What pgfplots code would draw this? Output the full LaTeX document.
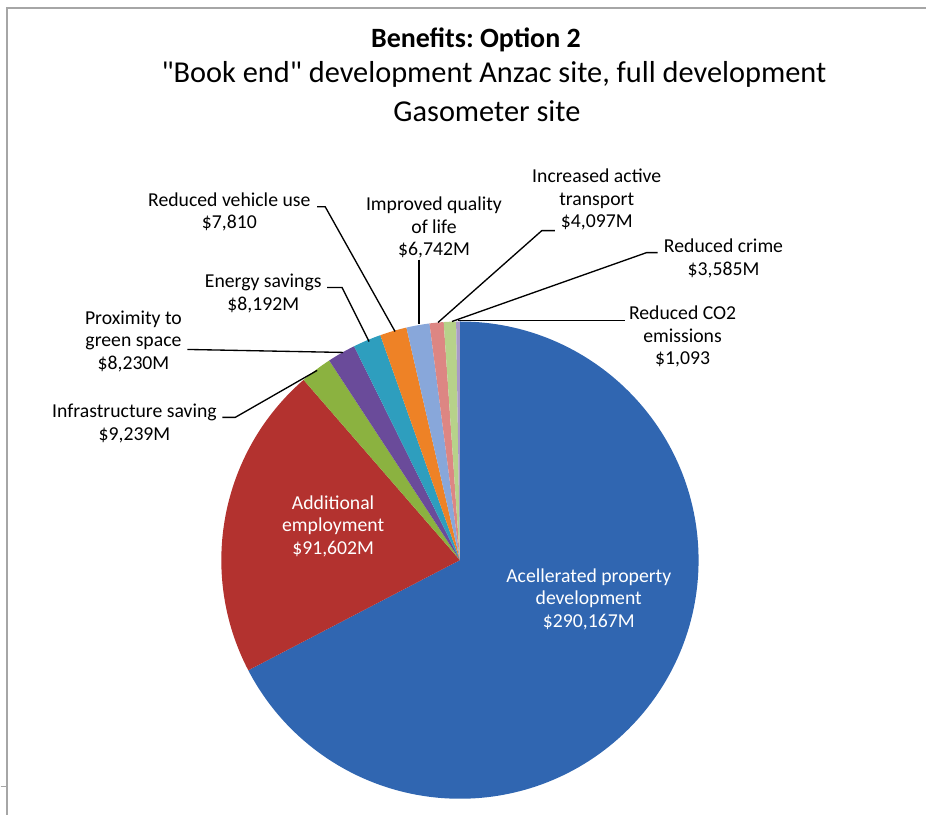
\documentclass[border=0pt]{standalone}
\usepackage{pgfplots}
\pgfplotsset{compat=1.18}
\usepackage{pgfplotstable}
\usepackage{fontspec}
\setmainfont{Carlito}[Ligatures=TeXOff]
\frenchspacing

\definecolor{cBlue}{HTML}{3066B1}
\definecolor{cRed}{HTML}{B3322F}
\definecolor{cGreen}{HTML}{8BB240}
\definecolor{cPurple}{HTML}{6A4B9A}
\definecolor{cTeal}{HTML}{2E9EBE}
\definecolor{cOrange}{HTML}{EE8226}
\definecolor{cLBlue}{HTML}{88A7DA}
\definecolor{cPink}{HTML}{DD8683}
\definecolor{cLGreen}{HTML}{B7D28A}
\definecolor{cLPurple}{HTML}{A89BC8}
\definecolor{frame}{HTML}{A6A6A6}

\pgfplotstableread{
value color
290167 cBlue
91602 cRed
9239 cGreen
8230 cPurple
8192 cTeal
7810 cOrange
6742 cLBlue
4097 cPink
3585 cLGreen
1093 cLPurple
}\pietable

\begin{document}
\begin{tikzpicture}
\begin{axis}[
  x=0.75pt, y=0.75pt,
  xmin=0, xmax=927, ymin=0, ymax=816,
  y dir=reverse,
  hide axis, clip=false,
]
\pgfplotsextra{
  \path (axis cs:0,0) rectangle (axis cs:927,816);
  \pgfplotstablegetrowsof{\pietable}
  \pgfmathtruncatemacro\lastrow{\pgfplotsretval-1}
  \gdef\pietotal{0}
  \foreach \i in {0,...,\lastrow}{
    \pgfplotstablegetelem{\i}{value}\of\pietable
    \xdef\pietotal{\fpeval{\pietotal+\pgfplotsretval}}
  }
  \gdef\pieangle{90}
  \foreach \i in {0,...,\lastrow}{
    \pgfplotstablegetelem{\i}{value}\of\pietable
    \edef\sliceval{\pgfplotsretval}
    \pgfplotstablegetelem{\i}{color}\of\pietable
    \edef\slicecolor{\pgfplotsretval}
    \edef\sliceend{\fpeval{\pieangle - \sliceval/\pietotal*360}}
    \fill[fill=\slicecolor] (axis cs:460,561) -- ++(\pieangle:179.25pt)
      arc[start angle=\pieangle, end angle=\sliceend, radius=179.25pt] -- cycle;
    \xdef\pieangle{\sliceend}
  }
  % frame
  \draw[frame, line width=1.2pt] (axis cs:6.5,816) -- (axis cs:6.5,8) -- (axis cs:927,8);
  \draw[frame, line width=1pt] (axis cs:0,788) -- (axis cs:6.5,788);
  % leader lines
  \begin{scope}[black, line width=1pt]
    \draw (axis cs:317,207) -- (axis cs:325,207) -- (axis cs:395,332);
    \draw (axis cs:419,260) -- (axis cs:419,325);
    \draw (axis cs:327,288) -- (axis cs:342,288) -- (axis cs:369,342);
    \draw (axis cs:187,350) -- (axis cs:343,353);
    \draw (axis cs:222,418) -- (axis cs:235,418) -- (axis cs:317,371);
    \draw (axis cs:555,231) -- (axis cs:542,231) -- (axis cs:438,323);
    \draw (axis cs:658,253) -- (axis cs:647,253) -- (axis cs:452,322);
    \draw (axis cs:625,321) -- (axis cs:458,321);
  \end{scope}
  % titles
  \node[font=\bfseries\fontsize{21}{25}\selectfont, anchor=center] at (axis cs:476,40) {Benefits: Option 2};
  \node[font=\fontsize{22.8}{27}\selectfont, anchor=center] at (axis cs:494,75) {"Book end" development Anzac site, full development};
  \node[font=\fontsize{22.8}{27}\selectfont, anchor=center] at (axis cs:487,111) {Gasometer site};
  % labels
  \begin{scope}[font=\fontsize{14.8}{16.8}\selectfont, align=center, inner sep=0pt]
    \node at (axis cs:229,212) {Reduced vehicle use\\\$7,810};
    \node at (axis cs:434,228) {Improved quality\\of life\\\$6,742M};
    \node at (axis cs:263,294) {Energy savings\\\$8,192M};
    \node at (axis cs:133,342) {Proximity to\\green space\\\$8,230M};
    \node at (axis cs:134,424) {Infrastructure saving\\\$9,239M};
    \node at (axis cs:597,200) {Increased active\\transport\\\$4,097M};
    \node at (axis cs:724,259) {Reduced crime\\\$3,585M};
    \node at (axis cs:683,337) {Reduced CO2\\emissions\\\$1,093};
    \node[white] at (axis cs:333,527) {Additional\\employment\\\$91,602M};
    \node[white] at (axis cs:589,600) {Acellerated property\\development\\\$290,167M};
  \end{scope}
}
\end{axis}
\end{tikzpicture}
\end{document}
